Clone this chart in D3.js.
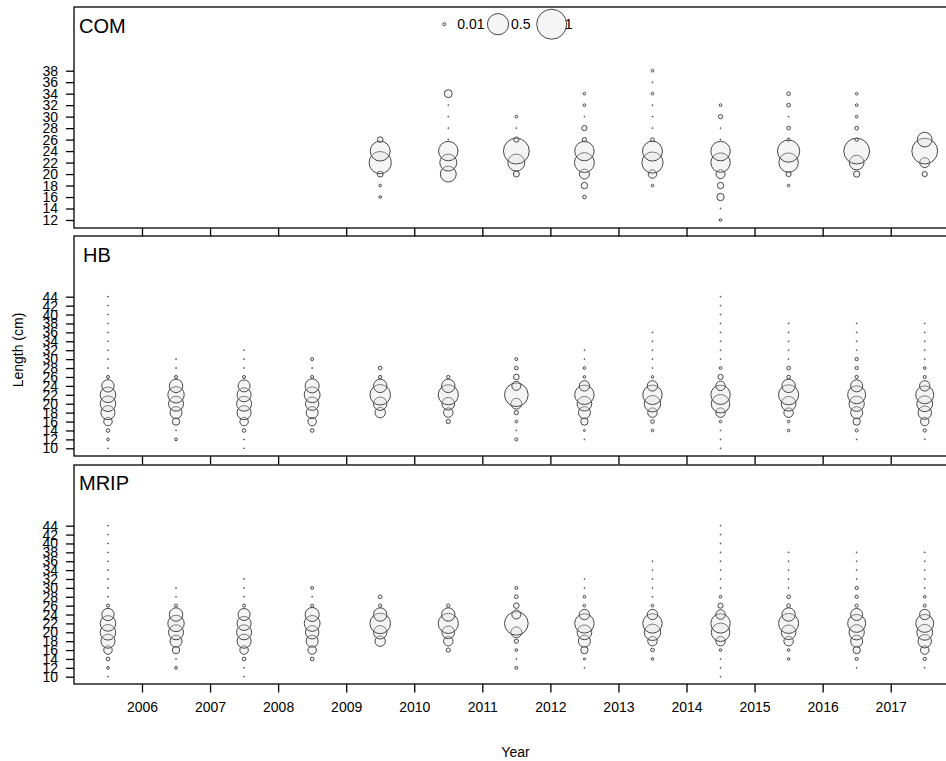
<!DOCTYPE html>
<html><head><meta charset="utf-8">
<script src="https://cdn.jsdelivr.net/npm/d3@7"></script>
<style>
body{margin:0;background:#fff;}
svg{display:block;font-family:"Liberation Sans",Arial,sans-serif;}
</style>
</head><body>
<svg id="chart" width="946" height="761"></svg>
<script>
// ---------- data ----------
const columnYears = [2005,2006,2007,2008,2009,2010,2011,2012,2013,2014,2015,2016,2017];
const xTickLabels = [2006,2007,2008,2009,2010,2011,2012,2013,2014,2015,2016,2017];
const legendValues = [0.01, 0.5, 1];

const comLengths = [12,14,16,18,20,22,24,26,28,30,32,34,36,38];
const comTicks = [12,14,16,18,20,22,24,26,28,30,32,34,36,38];
// proportions by year (rows) and length bin (cols); empty years have no row
const comYears = [2009,2010,2011,2012,2013,2014,2015,2016,2017];
const comProps = [
  [0,0,0.008,0.008,0.04,0.55,0.44,0.035,0,0,0,0,0,0],
  [0,0,0,0,0.28,0.32,0.42,0.001,0.001,0.001,0.001,0.07,0,0],
  [0,0,0,0,0.04,0.32,0.74,0.03,0.001,0.008,0,0,0,0],
  [0,0,0.015,0.045,0.11,0.44,0.42,0.02,0.03,0.001,0.008,0.008,0,0],
  [0,0,0,0.008,0.08,0.5,0.44,0.015,0.001,0.001,0.001,0.008,0.001,0.008],
  [0.008,0.001,0.06,0.045,0.09,0.42,0.42,0.001,0.001,0.02,0.008,0,0,0],
  [0,0,0,0.008,0.03,0.42,0.55,0.01,0.015,0.001,0.015,0.015,0,0],
  [0,0,0,0,0.045,0.24,0.74,0.012,0.015,0.008,0.008,0.008,0,0],
  [0,0,0,0,0.03,0.11,0.74,0.24,0,0,0,0,0,0]
];

const recLengths = [10,12,14,16,18,20,22,24,26,28,30,32,34,36,38,40,42,44];
const recTicks = [10,12,14,16,18,20,22,24,26,28,30,32,34,36,38,40,42,44];
const hbYears = [2005,2006,2007,2008,2009,2010,2011,2012,2013,2014,2015,2016,2017];
const hbProps = [
  [0.001,0.008,0.015,0.08,0.22,0.27,0.27,0.17,0.01,0.001,0.001,0.001,0.001,0.001,0.001,0.001,0.001,0.001],
  [0,0.008,0.001,0.06,0.16,0.25,0.3,0.2,0.01,0.001,0.001,0,0,0,0,0,0,0],
  [0.001,0.001,0.015,0.08,0.22,0.25,0.22,0.16,0.01,0.001,0.001,0.001,0,0,0,0,0,0],
  [0,0,0.015,0.08,0.16,0.2,0.28,0.22,0.01,0.001,0.01,0,0,0,0,0,0,0],
  [0,0,0,0,0.12,0.2,0.47,0.2,0.012,0.015,0,0,0,0,0,0,0,0],
  [0,0,0,0.02,0.1,0.18,0.45,0.2,0.012,0,0,0,0,0,0,0,0,0],
  [0,0.01,0.001,0.008,0.02,0.13,0.62,0.09,0.035,0.015,0.01,0,0,0,0,0,0,0],
  [0,0.001,0.005,0.06,0.16,0.24,0.42,0.12,0.008,0.008,0.001,0.001,0,0,0,0,0,0],
  [0,0,0.008,0.015,0.1,0.3,0.42,0.12,0.008,0.001,0.001,0.001,0.001,0.001,0,0,0,0],
  [0.001,0.001,0.001,0.008,0.1,0.38,0.42,0.1,0.03,0.008,0.001,0.001,0.001,0.001,0.001,0.001,0.001,0.001],
  [0,0,0.008,0.008,0.1,0.24,0.45,0.2,0.015,0.015,0.001,0.001,0.001,0.001,0.001,0,0,0],
  [0,0.001,0.01,0.06,0.16,0.26,0.36,0.16,0.012,0.012,0.012,0.001,0.001,0.001,0.001,0,0,0],
  [0,0.001,0.012,0.08,0.2,0.28,0.36,0.12,0.01,0.008,0.001,0.001,0.001,0.001,0.001,0,0,0]
];
const mripYears = [2005,2006,2007,2008,2009,2010,2011,2012,2013,2014,2015,2016,2017];
const mripProps = [
  [0.001,0.008,0.015,0.08,0.22,0.27,0.27,0.17,0.01,0.001,0.001,0.001,0.001,0.001,0.001,0.001,0.001,0.001],
  [0,0.008,0.001,0.06,0.16,0.25,0.3,0.2,0.01,0.001,0.001,0,0,0,0,0,0,0],
  [0.001,0.001,0.015,0.08,0.22,0.25,0.22,0.16,0.01,0.001,0.001,0.001,0,0,0,0,0,0],
  [0,0,0.015,0.08,0.16,0.2,0.28,0.22,0.01,0.001,0.01,0,0,0,0,0,0,0],
  [0,0,0,0,0.12,0.2,0.47,0.2,0.012,0.015,0,0,0,0,0,0,0,0],
  [0,0,0,0.02,0.1,0.18,0.45,0.2,0.012,0,0,0,0,0,0,0,0,0],
  [0,0.01,0.001,0.008,0.02,0.13,0.62,0.09,0.035,0.015,0.01,0,0,0,0,0,0,0],
  [0,0.001,0.005,0.06,0.16,0.24,0.42,0.12,0.008,0.008,0.001,0.001,0,0,0,0,0,0],
  [0,0,0.008,0.015,0.1,0.3,0.42,0.12,0.008,0.001,0.001,0.001,0.001,0.001,0,0,0,0],
  [0.001,0.001,0.001,0.008,0.1,0.38,0.42,0.1,0.03,0.008,0.001,0.001,0.001,0.001,0.001,0.001,0.001,0.001],
  [0,0,0.008,0.008,0.1,0.24,0.45,0.2,0.015,0.015,0.001,0.001,0.001,0.001,0.001,0,0,0],
  [0,0.001,0.01,0.06,0.16,0.26,0.36,0.16,0.012,0.012,0.012,0.001,0.001,0.001,0.001,0,0,0],
  [0,0.001,0.012,0.08,0.2,0.28,0.36,0.12,0.01,0.008,0.001,0.001,0.001,0.001,0.001,0,0,0]
];

// ---------- layout ----------
const svg = d3.select("#chart");
const plotLeft = 74, plotRight = 957;
const x = d3.scaleLinear().domain([2006, 2017]).range([142, 890.7]);
const r = d3.scaleSqrt().domain([0, 1]).range([0, 15]);
const strokeCol = "#474747";
const fillCol = "rgba(225,225,225,0.35)";

const panels = [
  {name:"COM", top:7, bottom:228, lengths:comLengths, ticks:comTicks, years:comYears, props:comProps,
   yDomain:[12,38], yRange:[220,70.7], labelX:79, labelY:33, showX:false, legend:true},
  {name:"HB", top:236, bottom:456, lengths:recLengths, ticks:recTicks, years:hbYears, props:hbProps,
   yDomain:[10,44], yRange:[448.3,296.7], labelX:83, labelY:262, showX:false},
  {name:"MRIP", top:465, bottom:684, lengths:recLengths, ticks:recTicks, years:mripYears, props:mripProps,
   yDomain:[10,44], yRange:[676.7,525.7], labelX:79, labelY:490, showX:true}
];

panels.forEach(p => {
  const y = d3.scaleLinear().domain(p.yDomain).range(p.yRange);
  const g = svg.append("g");

  // bubbles
  const pts = [];
  p.years.forEach((yr, i) => {
    p.lengths.forEach((len, j) => {
      const v = p.props[i][j];
      if (v > 0) pts.push({yr, len, v});
    });
  });
  g.append("g").selectAll("circle").data(pts).join("circle")
    .attr("cx", d => x(d.yr + 0.5))
    .attr("cy", d => y(d.len))
    .attr("r", d => r(d.v))
    .attr("fill", fillCol)
    .attr("stroke", strokeCol)
    .attr("stroke-width", 1);

  // frame
  g.append("rect")
    .attr("x", plotLeft).attr("y", p.top)
    .attr("width", plotRight - plotLeft).attr("height", p.bottom - p.top)
    .attr("fill", "none").attr("stroke", "#000").attr("stroke-width", 1.3);

  // y axis
  const ya = g.append("g").attr("transform", `translate(${plotLeft},0)`)
    .call(d3.axisLeft(y).tickValues(p.ticks).tickSize(8).tickSizeOuter(0).tickPadding(8).tickFormat(d3.format("d")));
  ya.select(".domain").remove();
  ya.selectAll("line").attr("stroke", "#000").attr("stroke-width", 1.3);
  ya.selectAll("text").attr("font-size", 14).attr("fill", "#000")
    .attr("font-family", '"Liberation Sans",Arial,sans-serif');

  // x axis
  const xa = g.append("g").attr("transform", `translate(0,${p.bottom})`)
    .call(d3.axisBottom(x).tickValues(xTickLabels).tickSize(8.5).tickSizeOuter(0).tickPadding(10)
      .tickFormat(p.showX ? d3.format("d") : () => ""));
  xa.select(".domain").remove();
  xa.selectAll("line").attr("stroke", "#000").attr("stroke-width", 1.3);
  xa.selectAll("text").attr("font-size", 14).attr("fill", "#000")
    .attr("font-family", '"Liberation Sans",Arial,sans-serif');

  // panel label
  g.append("text").attr("x", p.labelX).attr("y", p.labelY)
    .attr("font-size", 20).attr("fill", "#000").text(p.name);

  // legend
  if (p.legend) {
    const lx = d3.scaleLinear().domain([0, legendValues.length - 1]).range([444.3, 551.7]);
    const lg = g.append("g");
    legendValues.forEach((v, i) => {
      lg.append("circle").attr("cx", lx(i)).attr("cy", 24.2).attr("r", r(v))
        .attr("fill", fillCol).attr("stroke", strokeCol).attr("stroke-width", 1);
      lg.append("text").attr("x", lx(i) + 13).attr("y", 29.3)
        .attr("font-size", 14).attr("fill", "#000").text(String(v));
    });
  }
});

// axis titles
svg.append("text").attr("x", (plotLeft + plotRight) / 2).attr("y", 757)
  .attr("text-anchor", "middle").attr("font-size", 14).attr("fill", "#000").text("Year");
svg.append("text").attr("transform", "translate(23,350) rotate(-90)")
  .attr("text-anchor", "middle").attr("font-size", 14).attr("fill", "#000").text("Length (cm)");
</script>
</body></html>
